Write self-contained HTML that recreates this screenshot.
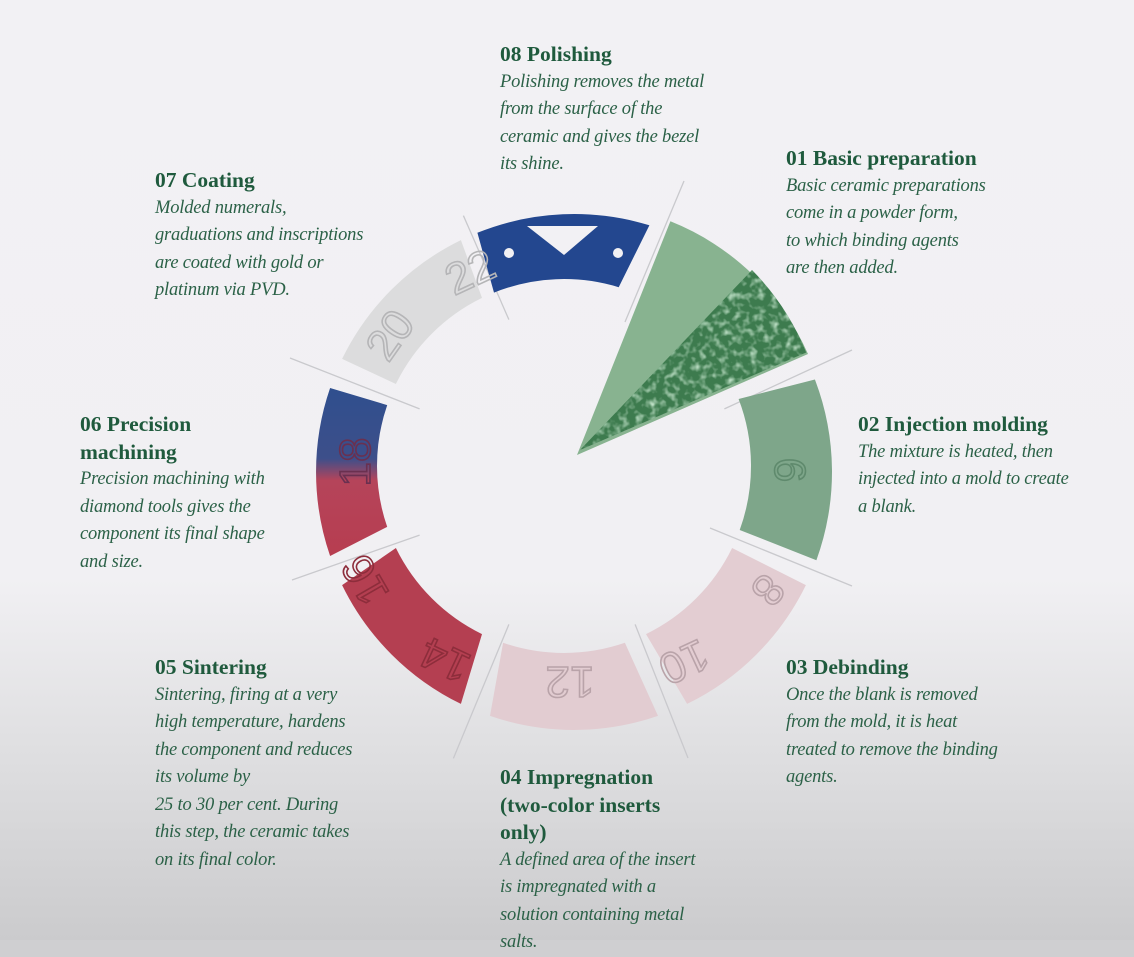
<!DOCTYPE html>
<html><head><meta charset="utf-8">
<style>
html{background:#cfcfd1}
html,body{margin:0;padding:0}
body{width:1134px;height:940px;overflow:hidden;position:relative;
background:linear-gradient(to bottom,#f2f1f4 0px,#f1f0f3 580px,#e0e0e2 740px,#cbcbcd 940px);
font-family:"Liberation Serif",serif;color:#245a42}
.b{position:absolute;line-height:27.5px;white-space:nowrap}
.b h{display:block;font-weight:bold;font-size:21.5px;color:#1f5a3d}
.b i{display:block;font-size:18.5px;color:#2b6147;letter-spacing:-0.2px}
svg{position:absolute;left:0;top:0}
</style></head><body>
<svg width="1134" height="940" viewBox="0 0 1134 940">
<defs>
<linearGradient id="g06" x1="0" y1="388" x2="0" y2="556" gradientUnits="userSpaceOnUse">
<stop offset="0" stop-color="#2f4f8e"/><stop offset="0.42" stop-color="#3d4f8a"/><stop offset="0.55" stop-color="#b5445a"/><stop offset="1" stop-color="#b73d50"/></linearGradient>
<filter id="tex" x="0" y="0" width="100%" height="100%">
<feTurbulence type="fractalNoise" baseFrequency="0.14" numOctaves="2" seed="3"/>
<feColorMatrix type="matrix" values="0 0 0 0 0.55  0 0 0 0 0.78  0 0 0 0 0.6  0 0 0 -2.2 1.2"/>
</filter>
<clipPath id="tc"><path d="M580,450 L752,270 A252,252 0 0 1 806.2,352.5 Z"/></clipPath>
</defs>
<g stroke="#c9c9cd" stroke-width="1.3">
<line x1="625" y1="322" x2="684" y2="181"/>
<line x1="724.4" y1="408.9" x2="852" y2="350"/>
<line x1="710" y1="528" x2="852" y2="586"/>
<line x1="635.1" y1="624.4" x2="688" y2="758"/>
<line x1="508.9" y1="624.4" x2="453.4" y2="758.4"/>
<line x1="419.6" y1="535.1" x2="292" y2="580"/>
<line x1="419.6" y1="408.9" x2="290" y2="358"/>
<line x1="508.9" y1="319.6" x2="463.4" y2="215.6"/>
</g>
<!-- 08 blue -->
<path d="M477.4,232.8 A258,258 0 0 1 649.4,225.3 L618.7,287.2 A187,187 0 0 0 494,292.6 Z" fill="#23478f"/>
<polygon points="527,226 598,226 564,255" fill="#f2f1f4"/>
<circle cx="509" cy="253" r="5" fill="#f2f1f4"/><circle cx="618" cy="253" r="5" fill="#f2f1f4"/>
<!-- 01 wedge -->
<path d="M577,455 L670.4,221.3 A252,252 0 0 1 808,354 Z" fill="#88b390"/>
<g clip-path="url(#tc)"><rect x="570" y="260" width="260" height="200" fill="#3d7b4e"/>
<rect x="570" y="260" width="260" height="200" filter="url(#tex)"/></g>
<!-- 02 green -->
<path d="M814.9,379.5 A258,258 0 0 1 816.4,560.2 L739.7,530 A187,187 0 0 0 738.6,399 Z" fill="#7ea68a"/>
<!-- 03 pink -->
<path d="M805.9,585.1 A258,258 0 0 1 687.1,703.9 L646,634.1 A187,187 0 0 0 732.1,548 Z" fill="#e3cdd2"/>
<!-- 04 pink -->
<path d="M658,715.9 A258,258 0 0 1 490,715.9 L503.1,642.8 A187,187 0 0 0 624.9,642.8 Z" fill="#e2ccd1"/>
<!-- 05 red -->
<path d="M460.9,703.9 A258,258 0 0 1 342.1,585.1 L395.9,548 A187,187 0 0 0 482,634.1 Z" fill="#b43f51"/>
<!-- 06 -->
<path d="M330.1,556 A258,258 0 0 1 330.1,388 L387.2,405.1 A187,187 0 0 0 387.2,526.9 Z" fill="url(#g06)"/>
<!-- 07 white -->
<path d="M342.1,358.9 A258,258 0 0 1 460.9,240.1 L482,297.9 A187,187 0 0 0 395.9,384 Z" fill="#dcdcdd"/>
<g font-family="Liberation Sans,sans-serif" font-size="44" fill="none" stroke-width="1.6" text-anchor="middle">
<text transform="translate(790,470) rotate(90)" stroke="#5f8a6d" dy="15">6</text>
<text transform="translate(768,590) rotate(130)" stroke="#b9a3a9" dy="15">8</text>
<text transform="translate(684,662) rotate(155)" stroke="#b9a3a9" dy="15">10</text>
<text transform="translate(570,682) rotate(180)" stroke="#b9a3a9" dy="15">12</text>
<text transform="translate(445,660) rotate(205)" stroke="#8d2d3b" dy="15">14</text>
<text transform="translate(365,580) rotate(240)" stroke="#8d2d3b" dy="15">16</text>
<text transform="translate(355,462) rotate(270)" stroke="#6a3050" dy="15">18</text>
<text transform="translate(390,335) rotate(305)" stroke="#b5b5b7" dy="15">20</text>
<text transform="translate(470,272) rotate(335)" stroke="#b5b5b7" dy="15">22</text>
</g>
</svg>

<div class="b" style="left:500px;top:41px"><h>08 Polishing</h><i>Polishing removes the metal</i><i>from the surface of  the</i><i>ceramic and gives the bezel</i><i>its shine.</i></div>
<div class="b" style="left:786px;top:145px"><h>01 Basic preparation</h><i>Basic ceramic preparations</i><i>come in a powder form,</i><i>to which binding agents</i><i>are then added.</i></div>
<div class="b" style="left:155px;top:167px"><h>07 Coating</h><i>Molded numerals,</i><i>graduations and inscriptions</i><i>are coated with gold or</i><i>platinum via PVD.</i></div>
<div class="b" style="left:80px;top:411px"><h>06 Precision</h><h>machining</h><i>Precision machining with</i><i>diamond tools gives the</i><i>component its final shape</i><i>and size.</i></div>
<div class="b" style="left:858px;top:411px"><h>02 Injection molding</h><i>The mixture is heated, then</i><i>injected into a mold to create</i><i>a blank.</i></div>
<div class="b" style="left:155px;top:654px"><h>05 Sintering</h><i>Sintering, firing at a very</i><i>high temperature,  hardens</i><i>the component and reduces</i><i>its volume by</i><i>25 to 30 per cent.  During</i><i>this step, the ceramic takes</i><i>on its final color.</i></div>
<div class="b" style="left:786px;top:654px"><h>03 Debinding</h><i>Once the blank is removed</i><i>from the mold, it is heat</i><i>treated to remove the binding</i><i>agents.</i></div>
<div class="b" style="left:500px;top:764px"><h>04 Impregnation</h><h>(two-color inserts</h><h>only)</h><i>A defined area of  the insert</i><i>is impregnated with a</i><i>solution containing metal</i><i>salts.</i></div>
</body></html>
